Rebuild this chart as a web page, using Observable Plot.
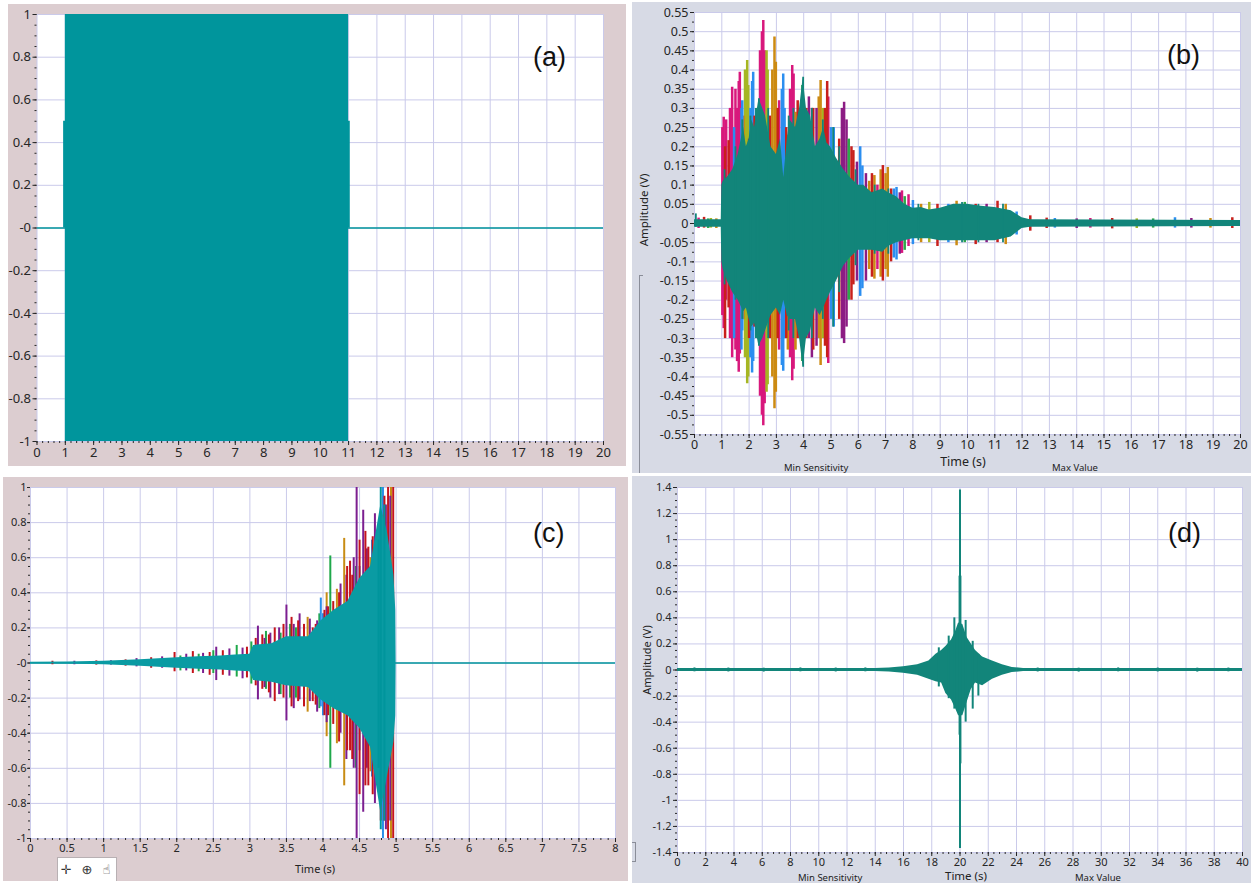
<!DOCTYPE html>
<html><head><meta charset="utf-8">
<script src="https://cdn.jsdelivr.net/npm/d3@7"></script>
<script src="https://cdn.jsdelivr.net/npm/@observablehq/plot@0.6"></script>
<style>
body{margin:0;background:#fff;}
#wrap{position:relative;width:1251px;height:883px;overflow:hidden;font-family:"Noto Sans",sans-serif;background:#fff;}
.panel{position:absolute;overflow:hidden;}
.panel svg{position:absolute;left:0;top:0;}
.lbl{position:absolute;white-space:nowrap;color:#222;}
.tag{position:absolute;font-family:"Liberation Sans",Arial,sans-serif;font-size:27px;color:#111;}
</style>
</head><body><div id="wrap"></div>
<script>
// ---------- Panel (a): rectangular excitation ----------
const aTime = [0, 0.94, 0.94, 1.0, 1.0, 11.0, 11.0, 11.06, 11.06, 20];
const aUpper = [0, 0, 0.5, 0.5, 1, 1, 0.5, 0.5, 0, 0];
const aLower = [0, 0, 0, 0, -1, -1, 0, 0, 0, 0];
const aXTicks = [0,1,2,3,4,5,6,7,8,9,10,11,12,13,14,15,16,17,18,19,20];
const aYTicks = [1,0.8,0.6,0.4,0.2,0,-0.2,-0.4,-0.6,-0.8,-1];
const aYLabels = ["1","0.8","0.6","0.4","0.2","-0","-0.2","-0.4","-0.6","-0.8","-1"];

// ---------- Panel (b): multi-channel response ----------
const bTime = [0,0.98,1.0,1.05,1.2,1.4,1.6,1.8,1.9,2.0,2.1,2.2,2.36,2.5,2.6,2.8,3.0,3.15,3.27,3.4,3.5,3.7,3.85,3.98,4.1,4.25,4.43,4.6,4.73,4.85,4.98,5.2,5.47,5.7,6.0,6.2,6.5,6.9,7.1,7.4,7.7,8.0,8.3,8.6,9.0,9.5,10.0,10.5,11.0,11.6,12.0,12.3,20];
const bTealUpper = [0.01,0.01,0.1,0.11,0.12,0.14,0.18,0.25,0.2,0.22,0.27,0.25,0.325,0.3,0.28,0.2,0.18,0.22,0.12,0.22,0.27,0.25,0.3,0.38,0.3,0.28,0.2,0.22,0.25,0.21,0.2,0.17,0.14,0.12,0.1,0.1,0.08,0.09,0.08,0.07,0.05,0.04,0.042,0.035,0.04,0.05,0.05,0.045,0.042,0.033,0.015,0.01,0.008];
const bTealLower = [-0.01,-0.01,-0.1,-0.12,-0.15,-0.18,-0.2,-0.23,-0.22,-0.25,-0.27,-0.26,-0.32,-0.3,-0.28,-0.24,-0.22,-0.24,-0.2,-0.24,-0.25,-0.25,-0.3,-0.375,-0.3,-0.28,-0.22,-0.24,-0.22,-0.2,-0.18,-0.15,-0.11,-0.09,-0.07,-0.07,-0.07,-0.075,-0.06,-0.05,-0.045,-0.04,-0.04,-0.04,-0.045,-0.045,-0.045,-0.045,-0.045,-0.035,-0.013,-0.01,-0.008];
// peaks per channel: [time, upper, lower]
const bMagenta = [[1.02,0.25,-0.24],[1.07,0.277,-0.274],[1.16,0.27,-0.2],[1.3,0.3,-0.3],[1.38,0.355,-0.35],[1.5,0.35,-0.33],[1.56,0.3,-0.36],[1.62,0.37,-0.388],[1.66,0.394,-0.34],[2.4,0.45,-0.45],[2.47,0.5,-0.5],[2.52,0.529,-0.527],[2.57,0.45,-0.47],[3.1,0.32,-0.33],[3.5,0.35,-0.35],[3.58,0.412,-0.41],[3.63,0.39,-0.38],[4.9,0.33,-0.365],[6.7,0.1,-0.12],[7.6,0.085,-0.078],[7.84,0.075,-0.06],[0.15,0.014,-0.013],[14.5,0.013,-0.012]];
const bOlive = [[1.85,0.4,-0.35],[1.93,0.425,-0.418],[1.97,0.36,-0.4],[2.64,0.45,-0.44],[2.68,0.4,-0.42],[4.7,0.3,-0.3],[8.6,0.055,-0.05],[0.6,0.013,-0.012],[16.2,0.012,-0.013]];
const bBlue = [[1.45,0.25,-0.3],[1.72,0.3,-0.33],[1.75,0.32,-0.28],[2.05,0.3,-0.35],[2.11,0.37,-0.39],[2.15,0.394,-0.36],[3.2,0.35,-0.37],[3.25,0.39,-0.385],[3.3,0.3,-0.3],[5.0,0.25,-0.25],[5.1,0.25,-0.27],[6.07,0.2,-0.19],[6.15,0.15,-0.17],[7.3,0.09,-0.09],[7.4,0.094,-0.095],[8.0,0.06,-0.055],[9.3,0.05,-0.05],[11.8,0.03,-0.03],[13.2,0.013,-0.012],[17.6,0.015,-0.012]];
const bOrange = [[1.8,0.28,-0.25],[2.85,0.4,-0.4],[2.93,0.486,-0.483],[2.98,0.42,-0.44],[3.42,0.23,-0.33],[3.7,0.29,-0.33],[4.55,0.33,-0.3],[4.62,0.373,-0.37],[6.4,0.11,-0.12],[6.59,0.125,-0.145],[6.82,0.14,-0.14],[7.0,0.13,-0.12],[7.08,0.146,-0.14],[8.3,0.05,-0.05],[9.6,0.058,-0.058],[11.4,0.05,-0.055],[0.8,0.012,-0.013],[18.9,0.013,-0.012]];
const bRed = [[1.12,0.2,-0.3],[1.25,0.216,-0.22],[2.0,0.22,-0.3],[2.2,0.28,-0.27],[2.76,0.28,-0.3],[3.05,0.3,-0.3],[3.36,0.25,-0.3],[3.78,0.32,-0.3],[4.1,0.3,-0.3],[4.35,0.3,-0.33],[4.78,0.3,-0.32],[4.86,0.37,-0.35],[5.3,0.22,-0.25],[5.75,0.2,-0.2],[5.82,0.19,-0.16],[6.5,0.13,-0.14],[6.9,0.151,-0.15],[7.2,0.09,-0.1],[8.9,0.05,-0.06],[10.3,0.05,-0.055],[11.1,0.058,-0.05],[12.3,0.02,-0.02],[0.35,0.016,-0.012],[12.9,0.014,-0.013],[15.3,0.013,-0.014],[19.7,0.015,-0.013]];
const bPurple = [[3.85,0.3,-0.28],[4.19,0.33,-0.3],[4.3,0.3,-0.35],[4.47,0.3,-0.32],[5.4,0.3,-0.3],[5.48,0.316,-0.313],[5.57,0.27,-0.27],[5.95,0.16,-0.15],[6.28,0.13,-0.15],[7.52,0.08,-0.08],[10.7,0.05,-0.05],[14.0,0.012,-0.013],[18.2,0.013,-0.012]];
const bGreen = [[2.28,0.3,-0.3],[3.95,0.36,-0.36],[5.65,0.22,-0.2],[7.7,0.07,-0.07],[9.9,0.055,-0.05],[0.5,0.012,-0.013],[16.8,0.012,-0.012]];
const bTealPeaks = [[2.36,0.325,-0.32],[3.98,0.381,-0.375],[5.08,0.25,-0.27],[7.1,0.09,-0.08],[0.05,0.025,-0.01],[1.1,0.14,-0.16],[1.5,0.2,-0.2],[1.75,0.27,-0.25],[2.05,0.28,-0.28],[2.25,0.3,-0.3],[2.7,0.3,-0.3],[3.45,0.28,-0.28],[3.62,0.3,-0.3],[4.3,0.3,-0.3],[4.7,0.27,-0.25],[5.3,0.2,-0.18],[5.9,0.14,-0.11],[6.6,0.1,-0.08],[8.2,0.05,-0.045],[9.8,0.055,-0.05],[10.4,0.05,-0.05],[11.3,0.05,-0.05]];
const bXTicks = [0,1,2,3,4,5,6,7,8,9,10,11,12,13,14,15,16,17,18,19,20];
const bYTicks = [0.55,0.5,0.45,0.4,0.35,0.3,0.25,0.2,0.15,0.1,0.05,0,-0.05,-0.1,-0.15,-0.2,-0.25,-0.3,-0.35,-0.4,-0.45,-0.5,-0.55];
const bYLabels = ["0.55","0.5","0.45","0.4","0.35","0.3","0.25","0.2","0.15","0.1","0.05","0","-0.05","-0.1","-0.15","-0.2","-0.25","-0.3","-0.35","-0.4","-0.45","-0.5","-0.55"];

// ---------- Panel (c): growing multi-channel signal ----------
const cTime = [0,0.5,1.0,1.5,2.0,2.3,2.6,2.8,3.0,3.05,3.3,3.5,3.8,3.97,4.15,4.34,4.5,4.65,4.79,4.88,4.97,4.995,5.0,8];
const cTealUpper = [0.004,0.006,0.01,0.018,0.03,0.035,0.04,0.045,0.05,0.1,0.11,0.15,0.15,0.24,0.3,0.35,0.48,0.55,0.9,0.75,0.5,0.3,0,0];
const cTealLower = [-0.004,-0.006,-0.01,-0.018,-0.03,-0.035,-0.04,-0.045,-0.05,-0.1,-0.11,-0.13,-0.14,-0.21,-0.26,-0.3,-0.37,-0.48,-0.85,-0.65,-0.45,-0.3,0,0];
const cPurple = [[0.6,0.01,-0.01],[1.1,0.013,-0.012],[1.45,0.025,-0.022],[1.8,0.035,-0.03],[2.13,0.05,-0.045],[2.36,0.055,-0.06],[2.54,0.09,-0.1],[2.72,0.08,-0.075],[2.9,0.085,-0.09],[3.11,0.21,-0.21],[3.2,0.14,-0.14],[3.28,0.17,-0.2],[3.4,0.2,-0.18],[3.5,0.33,-0.33],[3.6,0.22,-0.26],[3.68,0.28,-0.21],[3.82,0.25,-0.22],[3.92,0.24,-0.28],[4.05,0.32,-0.34],[4.24,0.45,-0.4],[4.32,0.5,-0.55],[4.42,0.6,-0.6],[4.46,1,-1],[4.55,0.87,-0.85],[4.6,0.65,-0.6],[4.71,0.85,-0.8],[4.78,0.75,-0.7],[4.86,0.9,-0.95],[4.92,0.95,-0.9]];
const cRed = [[0.3,0.01,-0.01],[0.9,0.012,-0.012],[1.3,0.018,-0.018],[1.65,0.03,-0.03],[1.97,0.06,-0.05],[2.22,0.065,-0.06],[2.45,0.06,-0.07],[2.63,0.07,-0.07],[2.96,0.09,-0.085],[3.08,0.14,-0.13],[3.17,0.16,-0.15],[3.26,0.16,-0.17],[3.34,0.2,-0.22],[3.46,0.22,-0.2],[3.57,0.26,-0.25],[3.66,0.24,-0.22],[3.74,0.22,-0.25],[3.86,0.2,-0.22],[3.9,0.22,-0.24],[4.02,0.3,-0.3],[4.07,0.32,-0.3],[4.14,0.35,-0.35],[4.22,0.4,-0.45],[4.33,0.55,-0.5],[4.37,0.58,-0.5],[4.4,0.5,-0.55],[4.5,0.7,-0.75],[4.58,0.75,-0.7],[4.62,0.66,-0.7],[4.68,0.72,-0.75],[4.79,0.8,-0.9],[4.84,0.95,-0.9],[4.89,1,-1],[4.96,1,-1]];
const cGreen = [[2.05,0.04,-0.045],[2.3,0.05,-0.05],[2.5,0.07,-0.06],[2.82,0.1,-0.08],[3.02,0.12,-0.12],[3.22,0.18,-0.15],[3.42,0.17,-0.18],[3.55,0.22,-0.2],[3.63,0.2,-0.2],[3.95,0.28,-0.26],[4.1,0.61,-0.6],[4.45,0.55,-0.6],[4.59,0.6,-0.55],[4.75,0.75,-0.7]];
const cOrange = [[3.79,0.26,-0.28],[4.05,0.4,-0.42],[4.19,0.42,-0.46],[4.29,0.71,-0.7],[4.65,0.6,-0.62],[4.93,1,-1]];
const cBlue = [[3.97,0.37,-0.25],[4.0,0.28,-0.3],[4.5,0.55,-0.5],[4.67,0.7,-0.65],[4.82,1,-1]];
const cTealPeaks = [[4.76,0.7,-0.6],[4.79,1,-0.95],[4.84,0.9,-0.9]];
const cXTicks = [0,0.5,1,1.5,2,2.5,3,3.5,4,4.5,5,5.5,6,6.5,7,7.5,8];
const cYTicks = [1,0.8,0.6,0.4,0.2,0,-0.2,-0.4,-0.6,-0.8,-1];
const cYLabels = ["1","0.8","0.6","0.4","0.2","-0","-0.2","-0.4","-0.6","-0.8","-1"];

// ---------- Panel (d): single pulse response ----------
const dTime = [0,14,15,16,17,17.8,18.3,18.7,19.0,19.4,19.7,19.9,20.2,20.5,20.8,21.1,21.6,22.3,23,23.7,24.5,40];
const dUpper = [0.011,0.011,0.015,0.025,0.04,0.07,0.12,0.15,0.18,0.23,0.3,0.36,0.35,0.25,0.2,0.15,0.1,0.07,0.04,0.02,0.011,0.011];
const dLower = [-0.011,-0.011,-0.015,-0.025,-0.04,-0.07,-0.09,-0.1,-0.18,-0.23,-0.3,-0.35,-0.35,-0.25,-0.15,-0.1,-0.12,-0.07,-0.04,-0.02,-0.011,-0.011];
const dPeaks = [[20.0,1.38,-1.37],[20.03,0.72,-0.72],[19.97,0.72,-0.5],[19.6,0.4,-0.3],[20.4,0.38,-0.4],[20.9,0.22,-0.3],[18.5,0.17,-0.13],[21.3,0.12,-0.2],[19.2,0.26,-0.22],[1.2,0.016,-0.014],[3.6,0.015,-0.015],[6.1,0.014,-0.016],[8.7,0.016,-0.014],[11.2,0.015,-0.015],[13.3,0.016,-0.014],[25.5,0.015,-0.015],[28.4,0.014,-0.016],[31.2,0.016,-0.014],[34,0.015,-0.015],[36.8,0.014,-0.016],[39,0.015,-0.014]];
const dXTicks = [0,2,4,6,8,10,12,14,16,18,20,22,24,26,28,30,32,34,36,38,40];
const dYTicks = [1.4,1.2,1,0.8,0.6,0.4,0.2,0,-0.2,-0.4,-0.6,-0.8,-1,-1.2,-1.4];
const dYLabels = ["1.4","1.2","1","0.8","0.6","0.4","0.2","0","-0.2","-0.4","-0.6","-0.8","-1","-1.2","-1.4"];

// ---------- styling ----------
const GRID = "#cacaea";
const PINK = "#dccdd0";
const BLUEGRAY = "#d7dae5";
const TEAL_AC = "#00959c";
const TEAL_BD = "#12857a";

const table = (t, hi, lo) => t.map((v, i) => ({t: v, hi: hi[i], lo: lo[i]}));
const spikes = (arr, ch, sw) => Plot.ruleX(arr, {x: d => d[0], y1: d => d[2], y2: d => d[1], stroke: () => ch, strokeWidth: sw});
const steps = (a, b, s) => d3.range(Math.round((b - a) / s) + 1).map(i => +(a + i * s).toFixed(6));

const wrap = document.getElementById("wrap");
function addLabel(parent, text, css, cls) {
  const el = document.createElement("div");
  el.className = cls || "lbl";
  el.textContent = text;
  el.style.cssText = css;
  parent.appendChild(el);
  return el;
}

function build(c) {
  const div = document.createElement("div");
  div.className = "panel";
  div.style.cssText = `left:${c.left}px;top:${c.top}px;width:${c.w}px;height:${c.h}px;background:${c.bg};`;
  const xLab = new Map(c.xt.map((d, i) => [d, String(d)]));
  const yLab = new Map(c.yt.map((d, i) => [d, c.yl[i]]));
  const svg = Plot.plot({
    width: c.w, height: c.h,
    marginLeft: c.mL, marginRight: c.mR, marginTop: c.mT, marginBottom: c.mB,
    style: {background: "transparent", overflow: "visible", fontFamily: "'Noto Sans', sans-serif", fontSize: c.fs + "px", color: "#262626"},
    x: {domain: c.xd},
    y: {domain: c.yd},
    color: {domain: c.chs || ["ch0"], range: c.cols || ["#000"]},
    marks: [
      Plot.frame({fill: "#ffffff", stroke: "none"}),
      Plot.ruleX(c.xt, {stroke: GRID}),
      Plot.ruleY(c.yt, {stroke: GRID}),
      ...c.marks,
      Plot.axisX(steps(c.xd[0], c.xd[1], c.mx), {tickSize: 2, tickFormat: () => "", label: null}),
      Plot.axisY(steps(c.yd[0], c.yd[1], c.my), {tickSize: 2, tickFormat: () => "", label: null}),
      Plot.axisX(c.xt, {tickSize: 4, tickPadding: 2, tickFormat: d => xLab.get(d), label: null}),
      Plot.axisY(c.yt, {tickSize: c.yts || 4, tickPadding: c.ytp || 2, tickFormat: d => yLab.get(d), label: null})
    ]
  });
  div.appendChild(svg);
  wrap.appendChild(div);
  return div;
}

// (a)
const pA = build({
  left: 8, top: 4, w: 618, h: 462, bg: PINK,
  mL: 28.5, mR: 23, mT: 10, mB: 25, fs: 13,
  xd: [0, 20], yd: [-1, 1], xt: aXTicks, yt: aYTicks, yl: aYLabels, mx: 0.2, my: 0.05,
  marks: [
    Plot.ruleY([0], {stroke: TEAL_AC, strokeWidth: 1.5}),
    Plot.areaY(table(aTime, aUpper, aLower), {x: "t", y1: "lo", y2: "hi", fill: TEAL_AC})
  ]
});

// (b)
const bCh = ["ch1", "ch2", "ch3", "ch4", "ch5", "ch6", "ch7", "ch8"];
const bCol = ["#d8187c", "#a6b622", "#cc8a12", "#8c1c84", "#2b8ef0", "#c8201c", "#2ea84a", TEAL_BD];
const pB = build({
  left: 632, top: 2, w: 619, h: 471, bg: BLUEGRAY,
  mL: 62, mR: 11, mT: 10, mB: 39, fs: 12.5,
  xd: [0, 20], yd: [-0.55, 0.55], xt: bXTicks, yt: bYTicks, yl: bYLabels, mx: 0.2, my: 0.025,
  chs: bCh, cols: bCol,
  marks: [
    spikes(bMagenta, "ch1", 2.5),
    spikes(bOlive, "ch2", 2.5),
    spikes(bOrange, "ch3", 2.5),
    spikes(bPurple, "ch4", 2.5),
    spikes(bBlue, "ch5", 2.5),
    spikes(bRed, "ch6", 2.5),
    spikes(bGreen, "ch7", 2.5),
    Plot.areaY(table(bTime, bTealUpper, bTealLower), {x: "t", y1: "lo", y2: "hi", fill: TEAL_BD}),
    spikes(bTealPeaks, "ch8", 1.8)
  ]
});
addLabel(pB, "Amplitude (V)", "left:11px;top:208px;font-size:11.5px;transform:translate(-50%,-50%) rotate(-90deg);");
addLabel(pB, "Time (s)", "left:331px;top:460px;font-size:12.5px;line-height:14px;transform:translate(-50%,-50%);");
addLabel(pB, "Min Sensitivity", "left:152px;top:460px;font-size:9.5px;line-height:11px;");
addLabel(pB, "Max Value", "left:420px;top:460px;font-size:9.5px;line-height:11px;");
const brB = document.createElement("div");
brB.style.cssText = "position:absolute;left:7px;top:273px;width:3px;height:200px;border-left:1px solid #8a8d98;border-top:1px solid #8a8d98;";
pB.appendChild(brB);

// (c)
const cCh = ["ch1", "ch2", "ch3", "ch4", "ch5", "ch6"];
const cCol = ["#c88c14", "#1fa84a", "#2a8ee8", "#7c1e90", "#c4141c", TEAL_AC];
const pC = build({
  left: 3, top: 477, w: 625, h: 404, bg: PINK,
  mL: 27, mR: 13, mT: 10, mB: 43, fs: 11, yts: 3, ytp: 1,
  xd: [0, 8], yd: [-1, 1], xt: cXTicks, yt: cYTicks, yl: cYLabels, mx: 0.1, my: 0.05,
  chs: cCh, cols: cCol,
  marks: [
    Plot.ruleY([0], {stroke: TEAL_AC, strokeWidth: 1.5}),
    spikes(cOrange, "ch1", 2),
    spikes(cGreen, "ch2", 2),
    spikes(cBlue, "ch3", 2),
    spikes(cPurple, "ch4", 2),
    spikes(cRed, "ch5", 2),
    Plot.areaY(table(cTime, cTealUpper, cTealLower), {x: "t", y1: "lo", y2: "hi", fill: "#0a9ba3"}),
    spikes(cTealPeaks, "ch6", 2)
  ]
});
addLabel(pC, "Time (s)", "left:312px;top:391px;font-size:11px;transform:translate(-50%,-50%);");
const tb = document.createElement("div");
tb.style.cssText = "position:absolute;left:54px;top:380px;width:58px;height:23px;background:#fff;border:1px solid #b8b0b3;font-family:'DejaVu Sans',sans-serif;font-size:13px;line-height:23px;text-align:center;color:#333;letter-spacing:3px;";
tb.textContent = "✛ ⊕ ☝";
pC.appendChild(tb);

// (d)
const pD = build({
  left: 632, top: 476, w: 619, h: 407, bg: BLUEGRAY,
  mL: 45, mR: 9, mT: 11, mB: 31, fs: 11,
  xd: [0, 40], yd: [-1.4, 1.4], xt: dXTicks, yt: dYTicks, yl: dYLabels, mx: 0.4, my: 0.05,
  chs: ["ch1"], cols: [TEAL_BD],
  marks: [
    Plot.areaY(table(dTime, dUpper, dLower), {x: "t", y1: "lo", y2: "hi", fill: TEAL_BD}),
    spikes(dPeaks, "ch1", 2)
  ]
});
addLabel(pD, "Amplitude (V)", "left:14px;top:184px;font-size:11px;transform:translate(-50%,-50%) rotate(-90deg);");
addLabel(pD, "Time (s)", "left:334px;top:399px;font-size:11.5px;line-height:13px;transform:translate(-50%,-50%);");
addLabel(pD, "Min Sensitivity", "left:166px;top:396px;font-size:9.5px;line-height:11px;");
addLabel(pD, "Max Value", "left:443px;top:396px;font-size:9.5px;line-height:11px;");
const brD = document.createElement("div");
brD.style.cssText = "position:absolute;left:0px;top:366px;width:3px;height:18px;border-right:1px solid #8a8d98;border-top:1px solid #8a8d98;border-bottom:1px solid #8a8d98;";
pD.appendChild(brD);

// panel tags
addLabel(wrap, "(a)", "left:533px;top:42px;", "tag");
addLabel(wrap, "(b)", "left:1167px;top:40px;", "tag");
addLabel(wrap, "(c)", "left:533px;top:518px;", "tag");
addLabel(wrap, "(d)", "left:1168px;top:518px;", "tag");
</script></body></html>
